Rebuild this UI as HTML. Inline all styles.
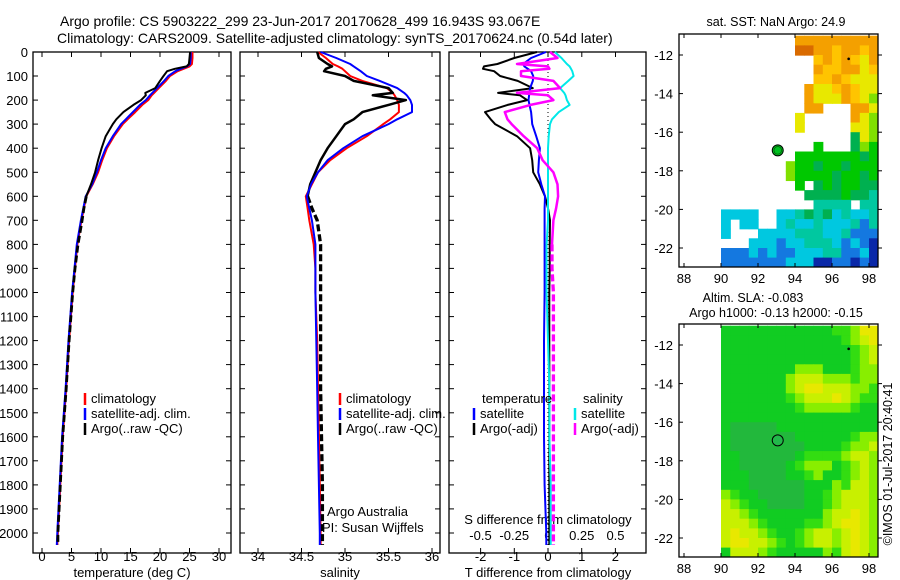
<!DOCTYPE html>
<html><head><meta charset="utf-8"><style>
body{margin:0;background:#fff}
svg{display:block;font-family:"Liberation Sans",sans-serif}
</style></head><body>
<svg id="fig" width="900" height="580" viewBox="0 0 900 580">
<text x="60" y="26" font-size="14">Argo profile: CS 5903222_299 23-Jun-2017 20170628_499 16.943S 93.067E</text>
<text x="57" y="43" font-size="14">Climatology: CARS2009. Satellite-adjusted climatology: synTS_20170624.nc (0.54d later)</text>
<g id="g"></g>
</svg>
<script>
const depth=[0,25,50,60,70,80,100,120,150,170,180,200,220,250,280,300,350,400,450,500,550,600,650,700,800,900,1000,1200,1400,1600,1800,2000,2050];
const depthTicks=[0,100,200,300,400,500,600,700,800,900,1000,1100,1200,1300,1400,1500,1600,1700,1800,1900,2000];
const tempClim=[25.5,25.5,25.4,25.0,24.0,23.0,21.7,21.0,19.8,19.0,18.6,18.0,17.0,15.8,14.5,13.7,12.2,11.0,10.2,9.5,8.6,7.5,7.1,6.7,6.0,5.6,5.2,4.6,4.1,3.5,3.1,2.7,2.6];
const tempSat=[25.2,25.2,25.1,24.6,23.5,22.6,21.4,20.7,19.5,18.7,18.3,17.6,16.6,15.4,14.2,13.4,12.0,10.8,10.0,9.3,8.5,7.4,7.0,6.6,5.9,5.5,5.1,4.5,4.0,3.4,3.0,2.6,2.5];
const tempArgo=[25.1,25.0,24.9,24.5,22.5,21.2,20.6,20.0,19.2,17.5,17.6,16.8,15.5,13.8,12.6,12.0,10.8,10.1,9.5,9.0,8.3,7.5,7.1,6.8,6.1,5.6,5.2,4.6,4.1,3.5,3.1,2.7,2.7];
const salClim=[34.69,34.78,34.86,34.92,34.97,35.0,35.06,35.2,35.48,35.55,35.57,35.6,35.62,35.62,35.52,35.44,35.25,35.02,34.83,34.69,34.62,34.55,34.57,34.59,34.64,34.66,34.66,34.68,34.69,34.70,34.71,34.72,34.72];
const salSat=[34.72,34.9,35.06,35.1,35.14,35.18,35.25,35.4,35.6,35.68,35.71,35.75,35.77,35.77,35.6,35.5,35.2,34.98,34.8,34.69,34.61,34.56,34.59,34.62,34.66,34.66,34.66,34.67,34.68,34.69,34.70,34.71,34.71];
const salArgo=[34.68,34.70,34.80,34.85,34.78,34.76,35.0,35.1,35.5,35.55,35.32,35.7,35.5,35.2,35.1,35.0,34.9,34.8,34.72,34.66,34.6,34.57,34.62,34.68,34.72,34.72,34.72,34.72,34.72,34.73,34.74,34.74,34.74];
const tDiffArgo=[-0.33,-1.0,-1.5,-1.9,-1.93,-1.6,-1.42,-0.9,-0.45,-1.48,-0.83,-0.62,-1.2,-1.87,-1.7,-1.57,-0.92,-0.53,-0.47,-0.44,-0.24,-0.09,0.0,0.06,0.05,0.05,0.04,0.04,0.04,0.04,0.04,0.04,0.04];
const tDiffSat=[-0.06,-0.5,-0.74,-0.7,-0.6,-0.5,-0.44,-0.45,-0.53,-0.55,-0.56,-0.58,-0.55,-0.5,-0.48,-0.47,-0.35,-0.24,-0.27,-0.29,-0.2,-0.09,-0.1,-0.1,-0.1,-0.1,-0.1,-0.12,-0.12,-0.12,-0.1,-0.05,-0.05];
const sDiffSat=[0.05,0.1,0.14,0.16,0.17,0.18,0.19,0.15,0.09,0.12,0.13,0.14,0.16,0.08,0.03,0.015,0.005,0,0,0,0,0,0,0,-0.01,-0.01,-0.01,0,0.01,0.01,0.02,0.02,0.02];
const sDiffArgo=[0.015,0.07,-0.23,0.0,0.01,-0.2,-0.2,0.04,0.09,-0.23,0.0,0.04,-0.13,-0.32,-0.3,-0.27,-0.18,-0.08,-0.04,0.04,0.07,0.075,0.06,0.04,0.03,0.03,0.04,0.04,0.04,0.04,0.04,0.04,0.04];
const tempTicks=[0,5,10,15,20,25,30];
const salTicks=[34,34.5,35,35.5,36];
const tdTicks=[-2,-1,0,1,2];
const sdTicks=[-0.5,-0.25,0,0.25,0.5];
const sdTickLabels=["-0.5","-0.25","0","0.25","0.5"];
const lonTicks=[88,90,92,94,96,98];
const latTicks=[-12,-14,-16,-18,-20,-22];
const sstRows=[
"........OOOOOOOOO","........ooOOyOOyO","..........yOyOyYO","..........OyyOOYy",
"..........yyOyYYY",".........OYYyOyYY",".........OYYYOyYg",".........OO...OOY",
"........Y.....OYg","........Y.....YYg","..............dYg","..........G...dgG",
"........GGGGGGGdG",".......gGGdGGdGGG",".......gGGGGdGGdG","........G.dGdGGdd",
".........ddddGddt","..........tttt.tt","cccc..cctdtdctcct","c.cc..ctcctccctbt",
"c...cccctttcctbbb","...cccbcctttcbcbB","bbbcbcbbcccttbbcB","bbbbbbbcccBBbbBbB"];
const slaRows=[
"GGGGGGGGGGGGgglYY","GGGGGGGGGGGGGglyY","GGGGGGGGGGGGGGgly","GGGGGGGGGGGGGGgly",
"GGGGGGGGlllGGGgll","GGGGGGGlyyylllgll","GGGGGGGlyYYyyyllg","GGGGGGGglyyyYylgg",
"GGGGGGGGglllllgGG","GGGGGGGGGGGGGGGGG","GDDDDDGGGGGGGGGGG","GDDDDDDDGGGGGGgll",
"GDDDDDDDDGGGGglly","GGDDDDDDGgggglyyl","GGDDDDDGglllGglyl","GGGDDDDGGglGGglyl",
"GGGDDDDDDGGGlgyyl","lgGGDDDDDGGglyyyl","ylgGGDDDDGGglyyyl","yylgGGGGGGGlyyYyl",
"yyylgGGGGgglyYYyl","yYyylgGGglyylyYyl","yYYyylgGglyylyYyl","GyyylgGGGGGlgyYyl"];
const sstColors={o:"#d96a00",O:"#f4a000",y:"#ffc400",Y:"#e8e800",g:"#80e000",G:"#00c800",d:"#00b050",t:"#00c8a0",c:"#00c8e0",b:"#1478e0",B:"#0a28a8"};
const slaColors={D:"#22b83c",G:"#11cc22",g:"#33dd11",l:"#88ee00",y:"#c8f000",Y:"#e8e800"};
const argoLon=93.067, argoLat=-16.943;

const NS="http://www.w3.org/2000/svg";
const G=document.getElementById('g');
function el(t,a,p){const e=document.createElementNS(NS,t);for(const k in a)e.setAttribute(k,a[k]);(p||G).appendChild(e);return e;}
const yD=d=>52+d*0.2405;
const P=[
 {x0:33,x1:231,sx:v=>42+v*5.9,name:'temperature-panel'},
 {x0:240,x1:440,sx:v=>258+(v-34)*87,name:'salinity-panel'},
 {x0:449,x1:646,sx:v=>548+v*33.7,name:'difference-panel'}];
const sdx=v=>548+v*135;
const Y0=52,Y1=553;

function txt(x,y,s,o,name){const t=el('text',Object.assign({x:x,y:y,'font-size':12},o||{}));t.textContent=s;

return t;}
function line(pts,color,w,name,dash){const d=pts.map((p,i)=>(i?'L':'M')+p[0].toFixed(1)+' '+p[1].toFixed(1)).join('');
const e=el('path',{d:d,fill:'none',stroke:color,'stroke-width':w,'stroke-linejoin':'round'});if(dash)e.setAttribute('stroke-dasharray',dash);

return e;}
function series(vals,sx,color,w,name,dashFrom){
 const pts=vals.map((v,i)=>[sx(v),yD(depth[i])]);
 if(dashFrom===undefined){line(pts,color,w,name);return;}
 const k=depth.indexOf(dashFrom);
 line(pts.slice(0,k+1),color,w,name);
 line(pts.slice(k),color,w+0.8,name+'-deep','7 3');
}

P.forEach((p,pi)=>{
 const r=el('rect',{x:p.x0,y:Y0,width:p.x1-p.x0,height:Y1-Y0,fill:'none',stroke:'#000','stroke-width':1.3});
 
 
 depthTicks.forEach(d=>{const y=yD(d);
  line([[p.x0,y],[p.x0+5,y]],'#000',1,'y-tick');line([[p.x1,y],[p.x1-5,y]],'#000',1,'y-tick');
  if(pi==0)txt(28,y+5,String(d),{'text-anchor':'end','font-size':13},'y-tick-label');});
});
tempTicks.forEach(v=>{const x=P[0].sx(v);line([[x,Y1],[x,Y1-5]],'#000',1,'x-tick');line([[x,Y0],[x,Y0+5]],'#000',1,'x-tick');txt(x,561,String(v),{'text-anchor':'middle','font-size':13},'temperature-tick-label');});
salTicks.forEach(v=>{const x=P[1].sx(v);line([[x,Y1],[x,Y1-5]],'#000',1,'x-tick');line([[x,Y0],[x,Y0+5]],'#000',1,'x-tick');txt(x,561,String(v),{'text-anchor':'middle','font-size':13},'salinity-tick-label');});
tdTicks.forEach(v=>{const x=P[2].sx(v);line([[x,Y1],[x,Y1-5]],'#000',1,'x-tick');txt(x,561,String(v),{'text-anchor':'middle','font-size':13},'t-diff-tick-label');});
sdTicks.forEach((v,i)=>{const x=sdx(v);line([[x,Y0],[x,Y0+5]],'#000',1,'s-diff-tick');txt(x,540,sdTickLabels[i],{'text-anchor':'middle','font-size':13},'s-diff-tick-label');});
txt(132,577,'temperature (deg C)',{'text-anchor':'middle','font-size':13},'temperature-axis-title');
txt(340,577,'salinity',{'text-anchor':'middle','font-size':13},'salinity-axis-title');
txt(548,577,'T difference from climatology',{'text-anchor':'middle','font-size':13},'t-diff-axis-title');
txt(548,524,'S difference from climatology',{'text-anchor':'middle','font-size':13},'s-diff-axis-title');
const zl=line([[548,Y0],[548,Y1]],'#000',1,'zero-line','1 3');

series(tempClim,P[0].sx,'#ff0000',2,'temp-climatology-line');
series(tempSat,P[0].sx,'#0000ff',2,'temp-satellite-line');
series(tempArgo,P[0].sx,'#000',2,'temp-argo-line',600);
series(salClim,P[1].sx,'#ff0000',2,'sal-climatology-line');
series(salArgo,P[1].sx,'#000',2.5,'sal-argo-line',600);
series(salSat,P[1].sx,'#0000ff',2,'sal-satellite-line');
series(tDiffArgo,P[2].sx,'#000',2,'tdiff-argo-line');
series(tDiffSat,P[2].sx,'#0000ff',2,'tdiff-satellite-line');
series(sDiffSat,sdx,'#00e8e8',2,'sdiff-satellite-line');
series(sDiffArgo,sdx,'#ff00ff',2.5,'sdiff-argo-line',800);

function leg(x,y,color,label,name){line([[x,y-10],[x,y+2]],color,2.5,name+'-swatch');txt(x+6,y,label,{'font-size':13},name);}
[['#ff0000','climatology'],['#0000ff','satellite-adj. clim.'],['#000','Argo(..raw -QC)']].forEach((l,i)=>{
 leg(85,403+i*15,l[0],l[1],'legend-entry');leg(340,403+i*15,l[0],l[1],'legend-entry');});
txt(482,403,'temperature',{'font-size':13},'legend-temperature-header');
txt(583,403,'salinity',{'font-size':13},'legend-salinity-header');
leg(474,418,'#0000ff','satellite','legend-entry');leg(474,433,'#000','Argo(-adj)','legend-entry');
leg(575,418,'#00e8e8','satellite','legend-entry');leg(575,433,'#ff00ff','Argo(-adj)','legend-entry');
txt(327,516,'Argo Australia',{'font-size':13},'credit-argo-australia');
txt(322,532,'PI: Susan Wijffels',{'font-size':13},'credit-pi');

function drawMap(top,rows,colors,name,fillCircle){
 const fx0=679,fx1=878,fy0=top,fy1=top+233;
 const lx=v=>684+(v-88)*18.5, ly=v=>top+21+(-12-v)*19.3;
 const cp=el('clipPath',{id:'cp'+name});el('rect',{x:fx0,y:fy0,width:fx1-fx0,height:fy1-fy0},cp);
 const g=el('g',{'clip-path':'url(#cp'+name+')'});
 
 
 rows.forEach((row,ri)=>{for(let ci=0;ci<row.length;ci++){const c=row[ci];if(c=='.')continue;
  const lon=90+ci*0.5,lat=-11-ri*0.5;
  const r=el('rect',{x:lx(lon).toFixed(1),y:ly(lat).toFixed(1),width:(9.25+0.6).toFixed(2),height:(9.65+0.6).toFixed(2),fill:colors[c]},g);
  
  }});
 const f=el('rect',{x:fx0,y:fy0,width:fx1-fx0,height:fy1-fy0,fill:'none',stroke:'#000','stroke-width':1.3});
 
 
 lonTicks.forEach(v=>{const x=lx(v);line([[x,fy1],[x,fy1-4]],'#000',1,'lon-tick');line([[x,fy0],[x,fy0+4]],'#000',1,'lon-tick');
  txt(x,fy1+16,String(v),{'text-anchor':'middle','font-size':13},'lon-tick-label');});
 latTicks.forEach(v=>{const y=ly(v);line([[fx0,y],[fx0+4,y]],'#000',1,'lat-tick');line([[fx1,y],[fx1+4,y]],'#000',1,'lat-tick');
  txt(673,y+5,String(v),{'text-anchor':'end','font-size':13},'lat-tick-label');});
 const dot=el('circle',{cx:lx(96.9),cy:ly(-12.2),r:1.3,fill:'#000'});
 
 
 const c=el('circle',{cx:lx(argoLon),cy:ly(argoLat),r:5.5,fill:fillCircle,stroke:'#000','stroke-width':1});
 
 
 if(name=='sst-map'){const c2=el('circle',{cx:lx(argoLon),cy:ly(argoLat),r:3.8,fill:'none',stroke:'#004400','stroke-width':0.6});
  
  }
}
drawMap(34,sstRows,sstColors,'sst-map','#00c020');
drawMap(324,slaRows,slaColors,'sla-map','#22b84a');
txt(776,26,'sat. SST: NaN Argo: 24.9',{'text-anchor':'middle','font-size':12.5},'sst-map-title');
txt(753,302,'Altim. SLA: -0.083',{'text-anchor':'middle','font-size':12.5},'sla-map-title');
txt(776,317,'Argo h1000: -0.13 h2000: -0.15',{'text-anchor':'middle','font-size':12.5},'sla-map-subtitle');
txt(0,0,'©IMOS 01-Jul-2017 20:40:41',{'text-anchor':'middle','font-size':12.5,transform:'translate(892,464) rotate(-90)'},'imos-timestamp');
</script>
</body></html>
